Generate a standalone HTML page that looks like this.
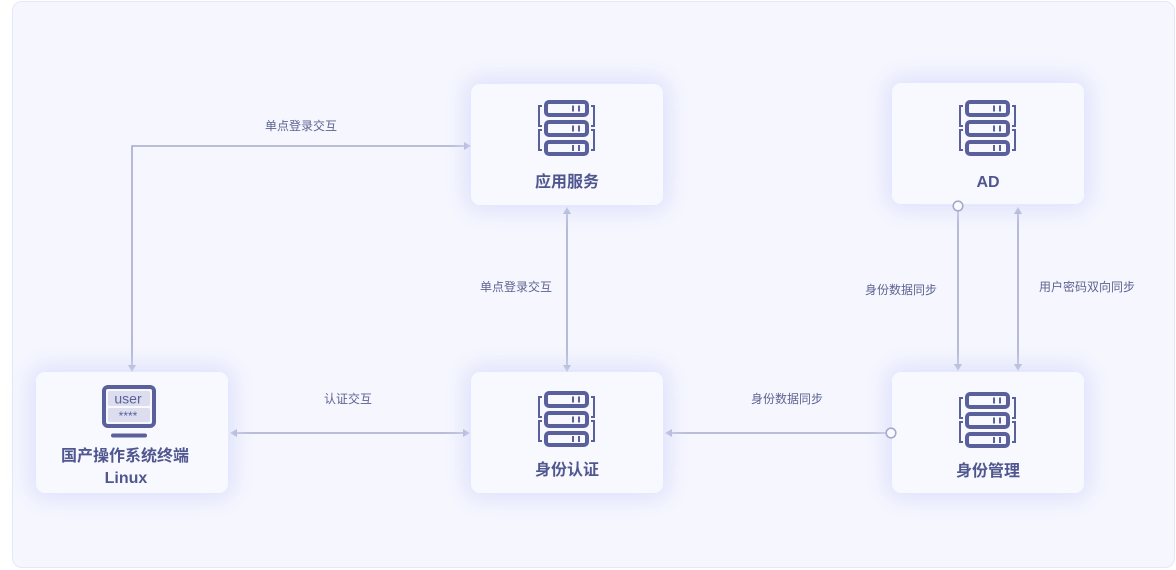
<!DOCTYPE html>
<html><head><meta charset="utf-8">
<style>
*{margin:0;padding:0;box-sizing:border-box}
body{width:1176px;height:570px;background:#fff;position:relative;overflow:hidden;font-family:"Liberation Sans","Noto Sans CJK SC",sans-serif}
.wrap{position:absolute;left:12px;top:1px;width:1163px;height:567px;background:#f6f7fe;border:1.5px solid #e4e7f8;border-radius:10px}
.card{position:absolute;width:192px;height:121px;background:#f8f9ff;border-radius:9px;box-shadow:0 0 22px 7px rgba(218,222,252,0.85)}
.t{position:absolute;left:0;width:100%;text-align:center;font-weight:bold;font-size:16px;color:#50578f;line-height:20px}
.lbl{position:absolute;width:140px;text-align:center;font-size:12px;color:#5d6392;line-height:16px}
svg{position:absolute;left:0;top:0}
</style></head><body>
<div class="wrap"></div>

<svg width="1176" height="570" viewBox="0 0 1176 570">
<g stroke="#a5aacb" stroke-width="1.6" fill="none">
<path d="M132 366 V146 H465"/>
<path d="M567 213 V366"/>
<path d="M236 433 H464"/>
<path d="M886 433 H671"/>
<path d="M958 211 V365"/>
<path d="M1018 213 V365"/>
</g>
<g fill="#a5aacb">
<polygon points="132,372 128,365 136,365"/>
<polygon points="471,146 464,142 464,150"/>
<polygon points="567,207 563,214 571,214"/>
<polygon points="567,372 563,365 571,365"/>
<polygon points="230,433 237,429 237,437"/>
<polygon points="470,433 463,429 463,437"/>
<polygon points="665,433 672,429 672,437"/>
<polygon points="958,371 954,364 962,364"/>
<polygon points="1018,207 1014,214 1022,214"/>
<polygon points="1018,371 1014,364 1022,364"/>
</g>
</svg>

<div class="card" style="left:471px;top:84px"><div class="t" style="top:89px">应用服务</div></div>
<div class="card" style="left:892px;top:83px"><div class="t" style="top:90px">AD</div></div>
<div class="card" style="left:36px;top:372px"><div class="t" style="top:75px;left:-7px">国产操作系统终端</div><div class="t" style="top:97px;left:-6px">Linux</div></div>
<div class="card" style="left:471px;top:372px"><div class="t" style="top:89px">身份认证</div></div>
<div class="card" style="left:892px;top:372px"><div class="t" style="top:90px">身份管理</div></div>

<svg width="1176" height="570" viewBox="0 0 1176 570">
<defs>
<g id="srv" fill="none" stroke="#59609b">
<rect x="8" y="2" width="41" height="13" rx="3" stroke-width="4"/>
<rect x="8" y="22" width="41" height="13" rx="3" stroke-width="4"/>
<rect x="8" y="42" width="41" height="12" rx="3" stroke-width="4"/>
<g stroke-width="2">
<path d="M35 5.5 V11.5 M41 5.5 V11.5 M35 25.5 V31.5 M41 25.5 V31.5 M35 45 V51 M41 45 V51"/>
<path d="M4 6 H1 V26 H4 M4 30 H1 V50 H4 M53 6 H56 V26 H53 M53 30 H56 V50 H53"/>
</g>
</g>
</defs>
<use href="#srv" x="538" y="100"/>
<use href="#srv" x="959" y="100"/>
<use href="#srv" x="538" y="391"/>
<use href="#srv" x="959" y="392"/>
<rect x="104" y="387" width="50" height="39" rx="4" fill="#f8f9ff" stroke="#59609b" stroke-width="4"/>
<rect x="108" y="391" width="42" height="15" rx="2" fill="#dcdeef"/>
<rect x="108" y="408" width="42" height="14" rx="2" fill="#dcdeef"/>
<text x="128" y="403.5" text-anchor="middle" font-family="Liberation Sans, sans-serif" font-size="14" fill="#5a6196">user</text>
<text x="128" y="420" text-anchor="middle" font-family="Liberation Sans, sans-serif" font-size="12" fill="#5a6196">****</text>
<path d="M113 435.5 H145" stroke="#59609b" stroke-width="4" stroke-linecap="round"/>
<g stroke="#a5aacb" stroke-width="1.6" fill="#fbfbff">
<circle cx="958" cy="206" r="4.8"/>
<circle cx="891" cy="433" r="4.8"/>
</g>
</svg>

<div class="lbl" style="left:231px;top:118px">单点登录交互</div>
<div class="lbl" style="left:446px;top:279px">单点登录交互</div>
<div class="lbl" style="left:278px;top:391px">认证交互</div>
<div class="lbl" style="left:717px;top:391px">身份数据同步</div>
<div class="lbl" style="left:831px;top:282px">身份数据同步</div>
<div class="lbl" style="left:1017px;top:279px">用户密码双向同步</div>
</body></html>
